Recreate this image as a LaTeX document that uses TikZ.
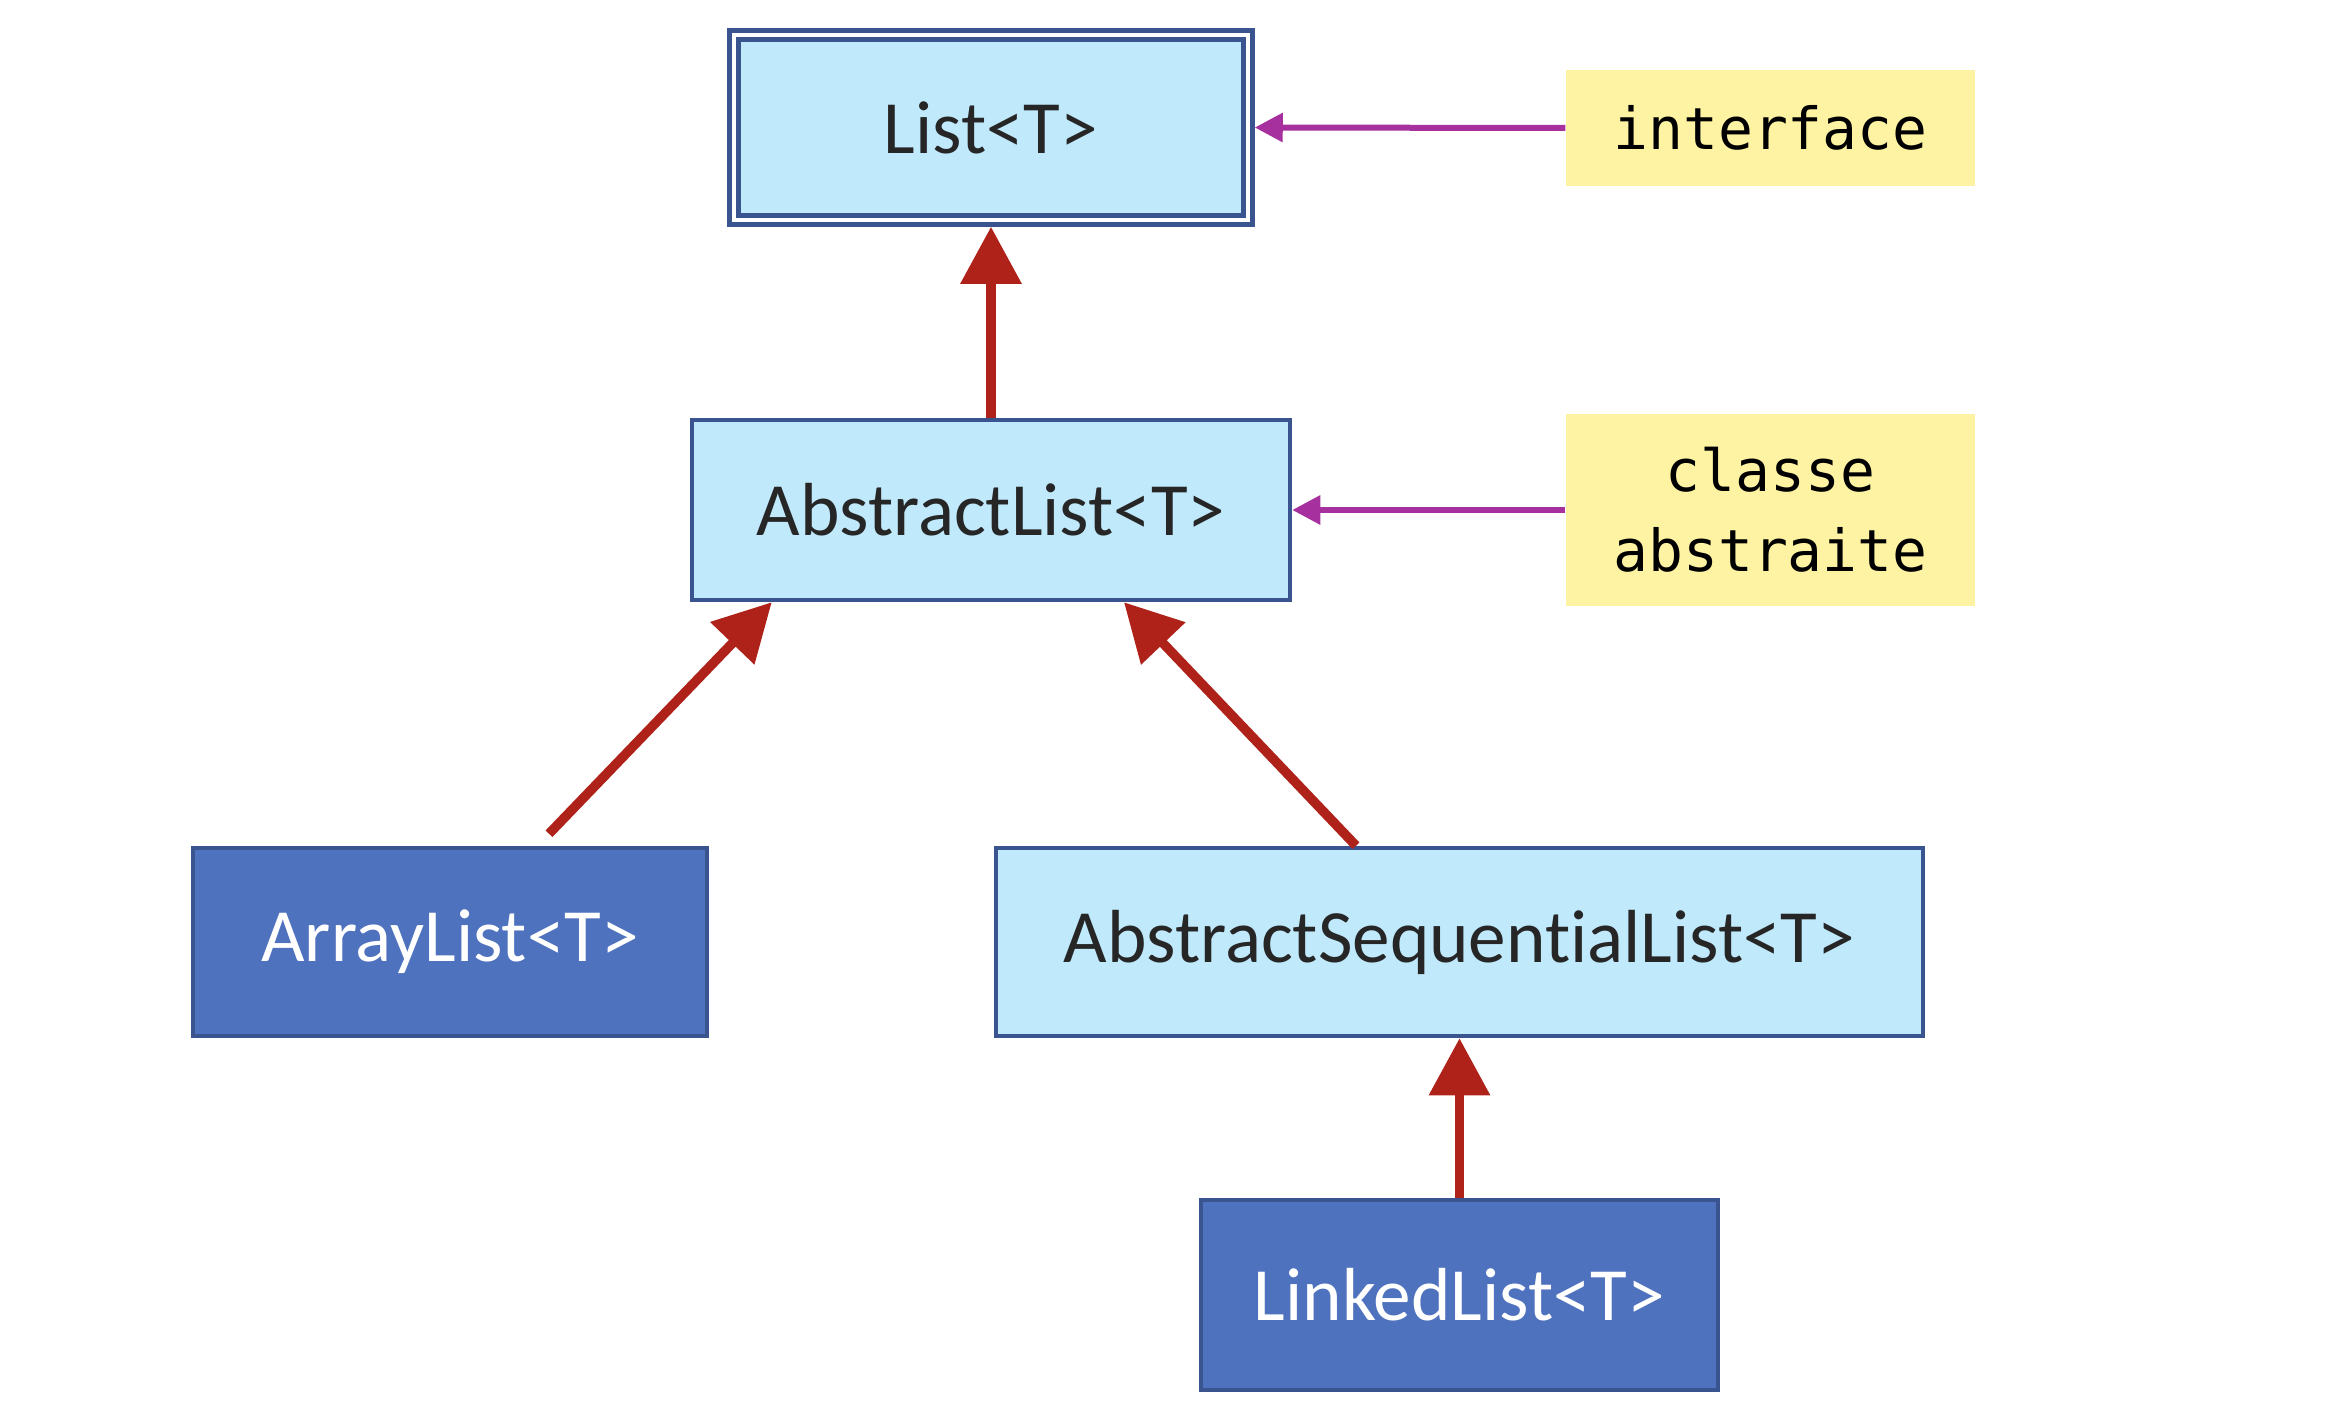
\documentclass[tikz,border=0pt]{standalone}
\usepackage{fontspec}
\setmainfont{Carlito}[Ligatures=NoCommon]
\newfontfamily\codefont{DejaVu Sans Mono}
\usepackage{tikz}
\usetikzlibrary{arrows.meta,positioning}
\definecolor{clsblue}{RGB}{192,233,251}
\definecolor{clsedge}{RGB}{57,84,143}
\definecolor{implblue}{RGB}{79,114,190}
\definecolor{inhred}{RGB}{175,34,26}
\definecolor{notepurple}{RGB}{165,48,158}
\definecolor{noteyellow}{RGB}{254,243,163}

\begin{document}
\begin{tikzpicture}[
  font=\fontsize{21.4}{26}\selectfont,
  box/.style={draw=clsedge, fill=clsblue, rectangle, line width=0.045cm, text=black!85, inner sep=0pt},
  implbox/.style={box, fill=implblue, text=white},
  note/.style={fill=noteyellow, rectangle, align=center, inner sep=0pt, font=\codefont\fontsize{16.5}{22.8}\selectfont},
  inharr/.style={-{Triangle[length=5.7mm,width=5.9mm]}, draw=inhred, line width=0.095cm},
  notearr/.style={-{Triangle[length=2.8mm,width=2.8mm]}, draw=notepurple, line width=0.06cm},
]
\useasboundingbox (0,0) rectangle (23.28,14.10);

% ============ interface (top) ============
\node[box, double=white, double distance=0.045cm, outer sep=0.0675cm,
      minimum width=5.14cm, minimum height=1.85cm] (list) at (9.91,12.825) {List<T>};

% ============ abstract classes ============
\node[box, minimum width=5.98cm, minimum height=1.80cm] (alist) at (9.91,9.00) {AbstractList<T>};
\node[box, minimum width=9.27cm, minimum height=1.88cm] (seqlist) at (14.595,4.68) {AbstractSequentialList<T>};

% ============ concrete classes ============
\node[implbox, minimum width=5.14cm, minimum height=1.88cm] (arraylist) at (4.50,4.68) {ArrayList<T>};
\node[implbox, minimum width=5.17cm, minimum height=1.90cm] (linkedlist) at (14.595,1.15) {LinkedList<T>};

% ============ notes (right) ============
\node[note, minimum width=4.09cm, minimum height=1.16cm] (iface) at (17.705,12.82) {interface};
\node[note, minimum width=4.09cm, minimum height=1.92cm] (abstr) at (17.705,9.00) {classe\\abstraite};

% ===================== ARROWS =====================

% inheritance
\draw[inharr] (alist.north) -- (list.south);
\draw[inharr] ([shift={(0.99,0.12)}]arraylist.north) -- ([xshift=0.82cm]alist.south west);
\draw[inharr] ([xshift=-1.035cm]seqlist.north) -- ([xshift=1.33cm]alist.south);
\draw[inharr] (linkedlist.north) -- (seqlist.south);

% notes point to their box
\draw[notearr] (iface.west) -- (list.east);
\draw[notearr] (abstr.west) -- (alist.east);

\end{tikzpicture}
\end{document}
